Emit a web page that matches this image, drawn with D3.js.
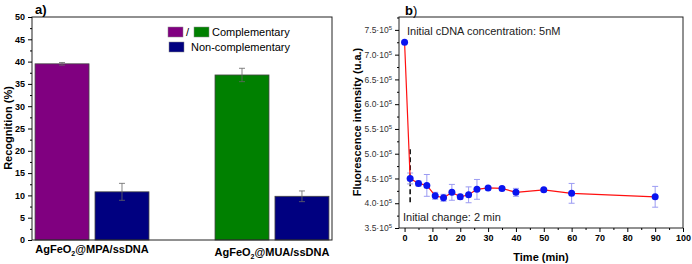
<!DOCTYPE html>
<html>
<head>
<meta charset="utf-8">
<script src="https://cdn.jsdelivr.net/npm/d3@7/dist/d3.min.js"></script>
<style>
  body { margin: 0; background: #fff; }
  svg { font-family: "Liberation Sans", Arial, sans-serif; }
</style>
</head>
<body>
<div id="chart"></div>
<script>
// panel a data
var groups = ["MPA", "MUA"];
var seriesNames = ["comp", "noncomp"];
var recognition = [[39.5, 10.8], [37.0, 9.8]];
var recognitionErr = [[0.3, 1.9], [1.5, 1.2]];
var compColors = ["#800080", "#008000"];
var nonCompColor = "#000080";
var yTicksA = [0, 5, 10, 15, 20, 25, 30, 35, 40, 45, 50];

// panel b data
var times = [0, 2, 5, 8, 11, 14, 17, 20, 23, 26, 30, 35, 40, 50, 60, 90];
var intensity = [7.25, 4.50, 4.40, 4.36, 4.15, 4.11, 4.22, 4.13, 4.17, 4.28, 4.31, 4.30, 4.22, 4.27, 4.20, 4.13];
var intensityErr = [0.02, 0.11, 0.05, 0.22, 0.07, 0.07, 0.16, 0.05, 0.16, 0.20, 0.03, 0.03, 0.08, 0.03, 0.20, 0.21];
var xTicksB = [0, 10, 20, 30, 40, 50, 60, 70, 80, 90, 100];
var yTicksB = [3.5, 4.0, 4.5, 5.0, 5.5, 6.0, 6.5, 7.0, 7.5];
var dashedLine = { t: 2, from: 4.02, to: 5.15 };

var svg = d3.select("#chart").append("svg")
    .attr("width", 692).attr("height", 264);

// ---------- panel a ----------
var xa = d3.scaleBand().domain(groups).range([32, 332]).paddingInner(0.367).paddingOuter(0.017);
var xa2 = d3.scaleBand().domain(seriesNames).range([0, xa.bandwidth()]).paddingInner(0.1);
var ya = d3.scaleLinear().domain([0, 50]).range([240, 17]);

var ga = svg.append("g");

var bars = [];
groups.forEach(function (g, i) {
    seriesNames.forEach(function (s, j) {
        bars.push({ g: g, s: s, v: recognition[i][j], e: recognitionErr[i][j],
            color: j === 0 ? compColors[i] : nonCompColor });
    });
});

ga.selectAll("rect.bar").data(bars).enter().append("rect")
    .attr("class", "bar")
    .attr("x", function (d) { return xa(d.g) + xa2(d.s); })
    .attr("y", function (d) { return ya(d.v); })
    .attr("width", xa2.bandwidth())
    .attr("height", function (d) { return ya(0) - ya(d.v); })
    .style("fill", function (d) { return d.color; })
    .style("stroke", "#444").style("stroke-width", 0.8);

var errA = ga.selectAll("g.err").data(bars).enter().append("g")
    .attr("transform", function (d) { return "translate(" + (xa(d.g) + xa2(d.s) + xa2.bandwidth() / 2) + ",0)"; })
    .style("stroke", "#666").style("stroke-width", 0.8);
errA.append("line").attr("y1", function (d) { return ya(d.v - d.e); }).attr("y2", function (d) { return ya(d.v + d.e); });
errA.append("line").attr("x1", -3).attr("x2", 3).attr("y1", function (d) { return ya(d.v - d.e); }).attr("y2", function (d) { return ya(d.v - d.e); });
errA.append("line").attr("x1", -3).attr("x2", 3).attr("y1", function (d) { return ya(d.v + d.e); }).attr("y2", function (d) { return ya(d.v + d.e); });

// frame
ga.append("rect").attr("x", 32).attr("y", 17).attr("width", 300).attr("height", 223)
    .style("fill", "none").style("stroke", "#222").style("stroke-width", 1);

ga.append("g").attr("transform", "translate(32,0)")
    .call(d3.axisLeft(ya).tickValues(d3.range(2.5, 50, 5)).tickSize(2).tickFormat(""))
    .call(function (g) { g.select(".domain").remove(); });
ga.append("g").attr("transform", "translate(32,0)")
    .call(d3.axisLeft(ya).tickValues(yTicksA).tickSize(4).tickPadding(3))
    .call(function (g) {
        g.select(".domain").remove();
        g.selectAll("text").style("font-size", "9px").style("font-weight", "bold").style("font-family", "Liberation Sans, Arial, sans-serif");
    });

ga.append("text").attr("transform", "translate(12,128) rotate(-90)")
    .attr("text-anchor", "middle").style("font-size", "11px").style("font-weight", "bold")
    .text("Recognition (%)");

var catLabels = ga.selectAll("text.cat").data(groups).enter().append("text")
    .attr("x", function (d) { return xa(d) + xa.bandwidth() / 2; })
    .attr("y", function (d, i) { return i === 0 ? 253 : 256; })
    .attr("text-anchor", "middle").style("font-size", "11px").style("font-weight", "bold");
catLabels.append("tspan").text("AgFeO");
catLabels.append("tspan").attr("dy", 3).style("font-size", "7px").text("2");
catLabels.append("tspan").attr("dy", -3).text(function (d) { return "@" + d + "/ssDNA"; });

ga.append("text").attr("x", 35).attr("y", 14).style("font-size", "13px").style("font-weight", "bold").text("a)");

// legend
var lg = ga.append("g").style("font-size", "11px");
lg.append("rect").attr("x", 168).attr("y", 27).attr("width", 15).attr("height", 10).style("fill", compColors[0]).style("stroke", "#888").style("stroke-width", 0.5);
lg.append("text").attr("x", 186).attr("y", 36).text("/");
lg.append("rect").attr("x", 194).attr("y", 27).attr("width", 15).attr("height", 10).style("fill", compColors[1]).style("stroke", "#888").style("stroke-width", 0.5);
lg.append("text").attr("x", 212).attr("y", 36).text("Complementary");
lg.append("rect").attr("x", 169).attr("y", 42).attr("width", 15).attr("height", 10).style("fill", nonCompColor).style("stroke", "#888").style("stroke-width", 0.5);
lg.append("text").attr("x", 191).attr("y", 51).text("Non-complementary");

// ---------- panel b ----------
var xb = d3.scaleLinear().domain([-2, 100]).range([399, 683]);
var yb = d3.scaleLinear().domain([3.5, 7.76]).range([228, 17]);
var gb = svg.append("g");

gb.append("rect").attr("x", 399).attr("y", 17).attr("width", 284).attr("height", 211)
    .style("fill", "none").style("stroke", "#222").style("stroke-width", 1);

// minor + major x ticks
gb.append("g").attr("transform", "translate(0,228)")
    .call(d3.axisBottom(xb).tickValues(d3.range(5, 100, 10)).tickSize(2).tickFormat(""))
    .call(function (g) { g.select(".domain").remove(); });
gb.append("g").attr("transform", "translate(0,228)")
    .call(d3.axisBottom(xb).tickValues(xTicksB).tickSize(4).tickPadding(3))
    .call(function (g) {
        g.select(".domain").remove();
        g.selectAll("text").style("font-size", "9px").style("font-weight", "bold").style("font-family", "Liberation Sans, Arial, sans-serif");
    });

gb.append("g").attr("transform", "translate(399,0)")
    .call(d3.axisLeft(yb).tickValues(d3.range(3.75, 7.76, 0.5)).tickSize(2).tickFormat(""))
    .call(function (g) { g.select(".domain").remove(); });
var yAxB = gb.append("g").attr("transform", "translate(399,0)")
    .call(d3.axisLeft(yb).tickValues(yTicksB).tickSize(4).tickPadding(3).tickFormat(""))
    .call(function (g) { g.select(".domain").remove(); });
yAxB.selectAll(".tick").append("text")
    .attr("x", -7).attr("dy", "0.32em").attr("text-anchor", "end")
    .style("fill", "#333").style("font-size", "8.5px").style("font-family", "Liberation Sans, Arial, sans-serif")
    .each(function (d) {
        var t = d3.select(this);
        t.append("tspan").text(d3.format(".1f")(d) + "·10");
        t.append("tspan").attr("dy", -3).style("font-size", "6px").text("5");
    });

gb.append("text").attr("transform", "translate(361,122) rotate(-90)")
    .attr("text-anchor", "middle").style("font-size", "11px").style("font-weight", "bold")
    .text("Fluorescence intensity (u.a.)");
gb.append("text").attr("x", 541).attr("y", 261).attr("text-anchor", "middle")
    .style("font-size", "11px").style("font-weight", "bold").text("Time (min)");

var bt = gb.append("text").attr("x", 405).attr("y", 15).style("font-size", "13px");
bt.append("tspan").style("font-weight", "bold").text("b");
bt.append("tspan").text(")");

gb.append("text").attr("x", 407).attr("y", 35).style("font-size", "11px").style("fill", "#222")
    .text("Initial cDNA concentration: 5nM");
gb.append("text").attr("x", 403).attr("y", 221).style("font-size", "11px").style("fill", "#222")
    .text("Initial change: 2 min");

gb.append("line").attr("x1", xb(dashedLine.t)).attr("x2", xb(dashedLine.t))
    .attr("y1", yb(dashedLine.from)).attr("y2", yb(dashedLine.to))
    .style("stroke", "#000").style("stroke-width", 1.5).style("stroke-dasharray", "5,3");

var pts = times.map(function (t, i) { return { t: t, v: intensity[i], e: intensityErr[i] }; });

var errB = gb.selectAll("g.errb").data(pts).enter().append("g")
    .attr("transform", function (d) { return "translate(" + xb(d.t) + ",0)"; })
    .style("stroke", "#9b9bf2").style("stroke-width", 1);
errB.append("line").attr("y1", function (d) { return yb(d.v - d.e); }).attr("y2", function (d) { return yb(d.v + d.e); });
errB.append("line").attr("x1", -3).attr("x2", 3).attr("y1", function (d) { return yb(d.v - d.e); }).attr("y2", function (d) { return yb(d.v - d.e); });
errB.append("line").attr("x1", -3).attr("x2", 3).attr("y1", function (d) { return yb(d.v + d.e); }).attr("y2", function (d) { return yb(d.v + d.e); });

var line = d3.line().x(function (d) { return xb(d.t); }).y(function (d) { return yb(d.v); });
gb.append("path").attr("d", line(pts))
    .style("fill", "none").style("stroke", "#ff1010").style("stroke-width", 1.2);

gb.selectAll("circle.pt").data(pts).enter().append("circle")
    .attr("cx", function (d) { return xb(d.t); })
    .attr("cy", function (d) { return yb(d.v); })
    .attr("r", 3.5).style("fill", "#0a14f0");
</script>
</body>
</html>
